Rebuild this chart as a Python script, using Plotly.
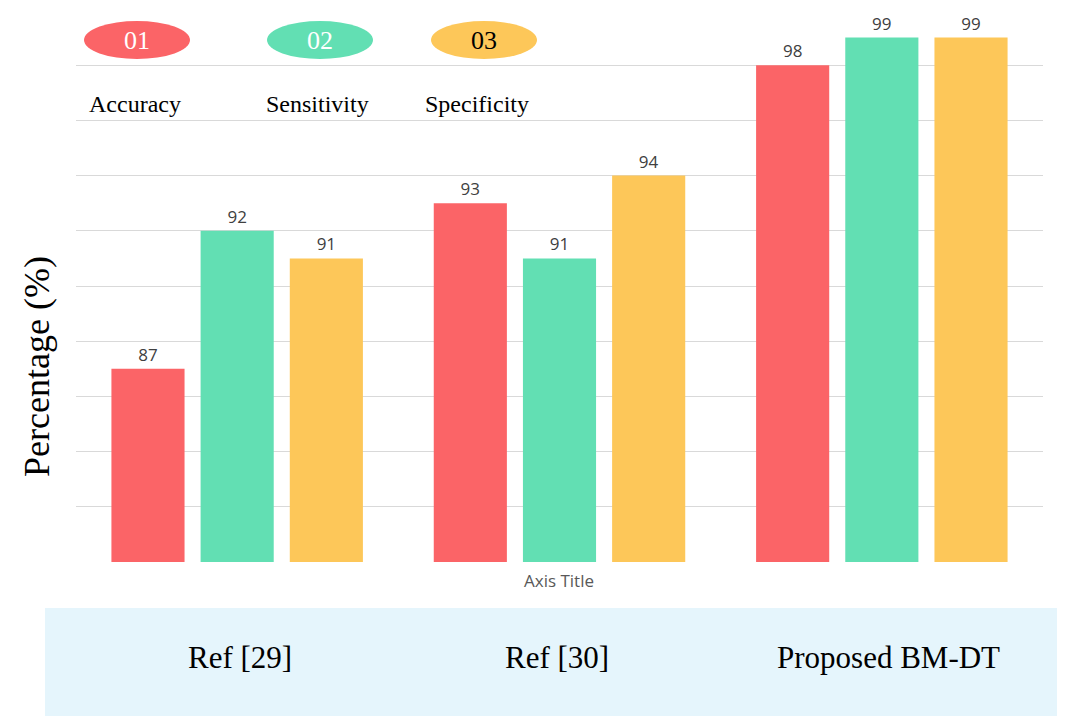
import plotly.graph_objects as go

# Data
groups = ['Ref [29]', 'Ref [30]', 'Proposed BM-DT']
metrics = ['Accuracy', 'Sensitivity', 'Specificity']
accuracy = [87, 93, 98]
sensitivity = [92, 91, 99]
specificity = [91, 94, 99]
legend_tags = ['01', '02', '03']

colors = ['#fb6467', '#62dfb3', '#fdc759']
OFF = 8  # page body margin
W, H = 1065, 720
L, R, T, B = 76 - OFF, 22 + OFF, 10 - OFF, 158 + OFF

def px(x):
    return (x - OFF - L) / (W - L - R)

def py(y):
    return (H - B - (y - OFF)) / (H - T - B)

fig = go.Figure()
for name, vals, col in zip(metrics, [accuracy, sensitivity, specificity], colors):
    fig.add_trace(go.Bar(
        x=groups, y=vals, name=name,
        marker=dict(color=col, line=dict(width=0)),
        text=vals, textposition='outside',
        textfont=dict(family='Open Sans', size=17, color='#404040'),
        cliponaxis=False, showlegend=False,
    ))

serif = 'Liberation Serif'
shapes = []
ann = []

def label(x, y, text, font, xanchor='center', **kw):
    ann.append(dict(x=px(x), y=py(y), xref='paper', yref='paper', text=text,
                    showarrow=False, xanchor=xanchor, yanchor='middle', font=font, **kw))

# light blue category band
shapes.append(dict(type='rect', xref='paper', yref='paper',
                   x0=px(45), x1=px(1065), y0=py(716), y1=py(608),
                   fillcolor='#e5f5fc', line=dict(width=0), layer='below'))
for g, cx in zip(groups, [240, 557, 888]):
    label(cx, 657, g, dict(family=serif, size=31, color='black'))

# pseudo legend
for tag, col, cx, lx, lab in zip(legend_tags, colors, [137, 320, 484], [87, 264, 423], metrics):
    shapes.append(dict(type='circle', xref='paper', yref='paper',
                       x0=px(cx - 53), x1=px(cx + 53), y0=py(59), y1=py(21),
                       fillcolor=col, line=dict(width=0)))
    label(cx, 40, tag, dict(family=serif, size=26, color='black' if tag == '03' else 'white'))
    label(lx, 104, lab, dict(family=serif, size=24, color='black'), xanchor='left')

label(559, 580, 'Axis Title', dict(family='Open Sans', size=17, color='#595959'))
label(37, 367, 'Percentage (%)', dict(family=serif, size=36, color='black'), textangle=-90)

fig.update_layout(
    width=W, height=H,
    margin=dict(l=L, r=R, t=T, b=B),
    plot_bgcolor='white', paper_bgcolor='white',
    barmode='group', bargap=0.17, bargroupgap=0.18,
    xaxis=dict(showticklabels=False, showline=False, showgrid=False),
    yaxis=dict(range=[80, 100], dtick=2, showticklabels=False, gridcolor='#d9d9d9',
               gridwidth=1, zeroline=False, showline=False),
    shapes=shapes, annotations=ann,
)

fig.write_html("out.html")
